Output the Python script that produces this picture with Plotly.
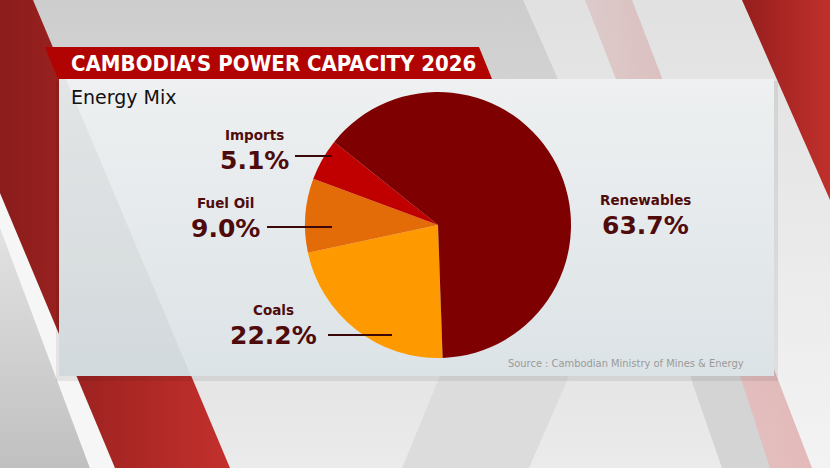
import plotly.graph_objects as go

# ----------------------------------------
# Data
labels = ["Coals", "Fuel Oil", "Imports", "Renewables"]
shares = [22.2, 9.0, 5.1, 63.7]
colors = ["#FF9900", "#E36C09", "#C00000", "#7F0000"]

title = "CAMBODIA\u2019S POWER CAPACITY 2026"
subtitle = "Energy Mix"
source = "Source : Cambodian Ministry of Mines & Energy"

# label placement (pixels, figure is 830 x 468)
label_pos = {
    "Coals": (273, 310),
    "Fuel Oil": (225, 203),
    "Imports": (254, 135),
    "Renewables": (645, 200),
}
leaders = {
    "Coals": (328, 392, 335),
    "Fuel Oil": (267, 332, 227),
    "Imports": (295, 332, 156),
}

W, H = 830, 468
LABEL_COLOR = "#4f0b0b"
BOLD = "DejaVu Sans"


def poly(pts, color=None, grad=None):
    xs = [p[0] for p in pts] + [pts[0][0]]
    ys = [p[1] for p in pts] + [pts[0][1]]
    tr = go.Scatter(x=xs, y=ys, mode="lines", fill="toself",
                    line=dict(width=0), hoverinfo="skip", showlegend=False)
    if grad:
        # note: with the reversed y axis, vertical gradients run bottom -> top
        tr.fillgradient = dict(type=grad[0], colorscale=[[0, grad[1]], [1, grad[2]]])
    else:
        tr.fillcolor = color
    return tr


fig = go.Figure()

# ----------------------------------------
# Background decoration
fig.add_trace(poly([(0, 0), (W, 0), (W, H), (0, H)], grad=("vertical", "#ebebeb", "#cdcdcd")))
fig.add_trace(poly([(523, 0), (742, 0), (830, 195), (830, 468), (730, 468)], "rgba(255,255,255,0.4)"))
fig.add_trace(poly([(585, 0), (632, 0), (812, 468), (768, 468)],
                   grad=("horizontal", "rgba(215,175,175,0.45)", "rgba(200,80,80,0.35)")))
fig.add_trace(poly([(690, 376), (740, 376), (770, 468), (722, 468)], "#d4d4d4"))
fig.add_trace(poly([(440, 376), (569, 376), (529, 468), (402, 468)], "#dcdcdc"))
# left side
fig.add_trace(poly([(0, 228), (90, 468), (0, 468)], grad=("vertical", "#c0c0c0", "#e2e2e2")))
fig.add_trace(poly([(0, 193), (115, 468), (90, 468), (0, 228)], "#f6f6f6"))
fig.add_trace(poly([(0, 0), (33, 0), (230, 468), (115, 468), (0, 193)],
                   grad=("horizontal", "#8a1c1b", "#c3302c")))
# right red stripe
fig.add_trace(poly([(742, 0), (830, 0), (830, 200)], grad=("horizontal", "#951e1d", "#c0302c")))

# panel + shadow
fig.add_trace(poly([(56, 81), (778, 81), (778, 381), (56, 381)], "rgba(0,0,0,0.07)"))
fig.add_trace(poly([(59, 79), (774, 79), (774, 376), (59, 376)], grad=("vertical", "#dce3e6", "#eef0f1")))
fig.add_trace(poly([(59, 79), (66, 79), (191, 376), (59, 376)], "rgba(0,0,0,0.045)"))

# title banner
fig.add_trace(poly([(45, 47), (479, 47), (492, 79), (58, 79)], "#b20303"))

# ----------------------------------------
# Pie
cx, cy, r = 438, 225, 133
fig.add_trace(go.Pie(
    labels=labels,
    values=shares,
    marker=dict(colors=colors, line=dict(width=0)),
    sort=False,
    direction="clockwise",
    rotation=178,
    textinfo="none",
    hoverinfo="label+percent",
    showlegend=False,
    domain=dict(x=[(cx - r) / W, (cx + r) / W], y=[(H - cy - r) / H, (H - cy + r) / H]),
))

# labels
annotations = []
for name, val in zip(labels, shares):
    x, y = label_pos[name]
    annotations.append(dict(x=x, y=y, text=f"<b>{name}</b>", showarrow=False,
                            font=dict(family=BOLD, size=13.5, color=LABEL_COLOR)))
    annotations.append(dict(x=x, y=y + 25, text=f"<b>{val:.1f}%</b>", showarrow=False,
                            font=dict(family=BOLD, size=25, color=LABEL_COLOR)))

annotations += [
    dict(x=69, y=63, text=f"<b>{title}</b>", showarrow=False, xanchor="left",
         font=dict(family="Liberation Sans Narrow, DejaVu Sans Condensed", size=22, color="white")),
    dict(x=69, y=97, text=subtitle, showarrow=False, xanchor="left",
         font=dict(family="DejaVu Sans", size=19, color="#111111")),
    dict(x=746, y=363, text=source, showarrow=False, xanchor="right",
         font=dict(family="Liberation Sans Narrow, DejaVu Sans Condensed", size=11, color="#9a9a9a")),
]

shapes = []
for name, (x0, x1, y) in leaders.items():
    shapes.append(dict(type="line", x0=x0, x1=x1, y0=y, y1=y, xref="x", yref="y",
                       line=dict(color="#3a0808", width=2)))

fig.update_layout(
    width=W,
    height=H,
    autosize=False,
    margin=dict(l=0, r=0, t=0, b=0),
    paper_bgcolor="#e4e4e4",
    plot_bgcolor="rgba(0,0,0,0)",
    xaxis=dict(range=[0, W], visible=False, fixedrange=True),
    yaxis=dict(range=[H, 0], visible=False, fixedrange=True),
    annotations=annotations,
    shapes=shapes,
)

fig.write_html("out.html", config={"displayModeBar": False},
               post_script="document.body.style.margin = '0px';")
